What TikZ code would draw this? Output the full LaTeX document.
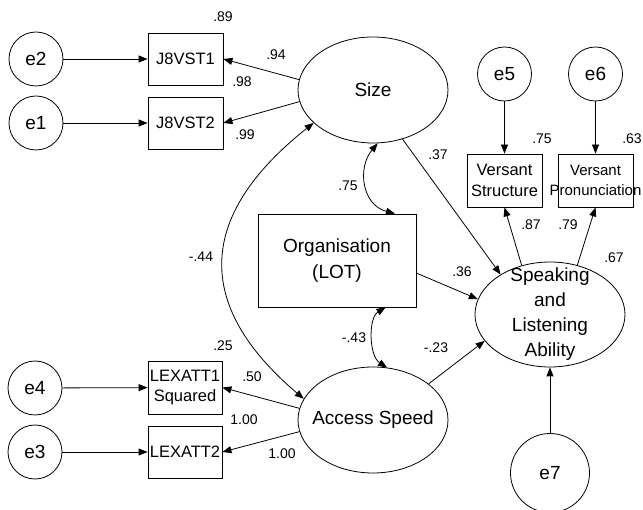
\documentclass[tikz,border=0pt]{standalone}
\usepackage{fontspec}
\setmainfont{Liberation Sans}
\usetikzlibrary{arrows.meta,shapes.geometric}
\tikzset{
 lat/.style={draw, ellipse, minimum width=150pt, minimum height=106pt, inner sep=0pt, line width=0.8pt},
 err/.style={draw, circle, minimum size=54pt, inner sep=0pt, line width=0.8pt, font=\fontsize{19}{23}\selectfont},
 obs/.style={draw, rectangle, minimum width=75pt, minimum height=52pt, inner sep=0pt, align=center, line width=0.8pt, font=\fontsize{16.5}{20.5}\selectfont},
 bigtxt/.style={font=\fontsize{19}{25}\selectfont, align=center, inner sep=0pt},
 lbl/.style={inner sep=0pt, font=\fontsize{14}{16}\selectfont},
 arr/.style={-{Triangle[length=9pt,width=7pt]}, line width=0.8pt},
 dbl/.style={{Triangle[length=9pt,width=7pt]}-{Triangle[length=9pt,width=7pt]}, line width=0.8pt},
}
\begin{document}
\begin{tikzpicture}[x=1pt,y=-1pt]
\useasboundingbox (0,0) rectangle (643,510);
% latent variables
\node[lat, label={[bigtxt]center:Size}] (size) at (373,90) {};
\node[lat, label={[bigtxt]center:Access Speed}] (acc) at (373,420) {};
\node[lat, minimum height=105pt, label={[bigtxt]center:{Speaking\\and\\Listening\\Ability}}] (spk) at (550,314.5) {};
% organisation
\node[draw, rectangle, minimum width=158pt, minimum height=93pt, inner sep=0pt, line width=0.8pt, bigtxt, font=\fontsize{19}{26}\selectfont] (org) at (337,260.5) {Organisation\\(LOT)};
% observed
\node[obs] (j1) at (185.5,59) {J8VST1};
\node[obs] (j2) at (185.5,123) {J8VST2};
\node[obs, minimum width=74pt, minimum height=53pt] (lx1) at (185,387.5) {LEXATT1\\Squared};
\node[obs, minimum width=74pt] (lx2) at (185,452) {LEXATT2};
\node[obs, minimum height=53pt] (vs) at (504.5,180.5) {Versant\\Structure};
\node[obs, minimum height=53pt, font=\fontsize{15}{20}\selectfont] (vp) at (595.5,180.5) {\makebox[0pt]{Versant}\\\makebox[0pt]{Pronunciation}};
% errors
\node[err] (e2) at (36,59) {e2};
\node[err] (e1) at (36,123) {e1};
\node[err] (e4) at (35,388) {e4};
\node[err] (e3) at (35,452) {e3};
\node[err] (e5) at (504.5,74) {e5};
\node[err] (e6) at (595.5,74) {e6};
\node[err, minimum size=79pt] (e7) at (550,473) {e7};
% error arrows
\draw[arr] (e2) -- (j1);
\draw[arr] (e1) -- (j2);
\draw[arr] (e4) -- (lx1);
\draw[arr] (e3) -- (lx2);
\draw[arr] (e5) -- (vs);
\draw[arr] (e6) -- (vp);
\draw[arr] (e7) -- (spk);
% loadings
\draw[arr] (size.172.4) -- (j1.east);
\draw[arr] (size.189.8) -- (j2.east);
\draw[arr] (acc.171) -- (lx1.east);
\draw[arr] (acc.189) -- (lx2.east);
\draw[arr] (spk.120.2) -- (vs.south);
\draw[arr] (spk.61.9) -- (vp.south);
% structural paths
\draw[arr] (size.301) -- (spk.141.9);
\draw[arr] (org.351.7) -- (spk.168.6);
\draw[arr] (acc.33) -- (spk.202.3);
% covariances
\draw[dbl] (size.275) .. controls (357,168) and (362,205) .. (org.39.7);
\draw[dbl] (org.316.5) .. controls (368,318) and (369,356) .. (acc.75.2);
\draw[dbl] (size.209) .. controls (185,225) and (205,315) .. (acc.163);
% labels
\node[lbl] (l1) at (223,17) {.89};
\node[lbl] (l2) at (276,55) {.94};
\node[lbl] (l3) at (242,82) {.98};
\node[lbl] (l4) at (245,135) {.99};
\node[lbl] (l5) at (542,139) {.75};
\node[lbl] (l6) at (632,139) {.63};
\node[lbl] (l7) at (438,155) {.37};
\node[lbl] (l8) at (348,186) {.75};
\node[lbl] (l9) at (201,257) {-.44};
\node[lbl] (l10) at (462,272) {.36};
\node[lbl] (l11) at (531,225) {.87};
\node[lbl] (l12) at (568,225) {.79};
\node[lbl] (l13) at (614,258) {.67};
\node[lbl] (l14) at (354,338) {-.43};
\node[lbl] (l15) at (436,348) {-.23};
\node[lbl] (l16) at (223,346) {.25};
\node[lbl] (l17) at (252,377) {.50};
\node[lbl] (l18) at (244,420) {1.00};
\node[lbl] (l19) at (282,454) {1.00};
\end{tikzpicture}
\end{document}
